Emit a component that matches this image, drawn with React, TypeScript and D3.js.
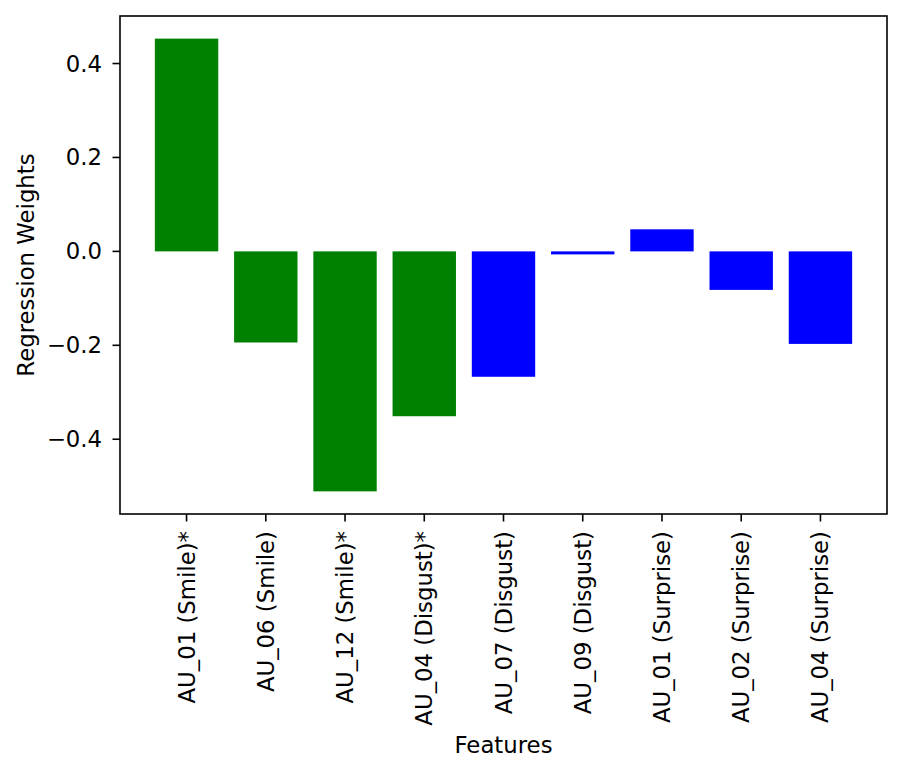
import React from "react";
import * as d3 from "d3";

const categories = [
  "AU_01 (Smile)*",
  "AU_06 (Smile)",
  "AU_12 (Smile)*",
  "AU_04 (Disgust)*",
  "AU_07 (Disgust)",
  "AU_09 (Disgust)",
  "AU_01 (Surprise)",
  "AU_02 (Surprise)",
  "AU_04 (Surprise)",
];
const weights = [0.453, -0.194, -0.511, -0.351, -0.267, -0.0064, 0.047, -0.082, -0.197];
const groups = ["smile", "smile", "smile", "disgust", "surprise", "surprise", "surprise", "surprise", "surprise"];
const yTicks = [-0.4, -0.2, 0.0, 0.2, 0.4];

const W = 903;
const H = 774;
const left = 120;
const right = 887;
const top = 16;
const bottom = 514;

export default function App() {
  const n = categories.length;
  const xMin = -0.4 - 0.05 * (n - 1 + 0.8);
  const xMax = n - 1 + 0.4 + 0.05 * (n - 1 + 0.8);
  const x = d3.scaleLinear().domain([xMin, xMax]).range([left, right]);
  const lo = d3.min(weights)!;
  const hi = d3.max(weights)!;
  const pad = (hi - lo) * 0.05;
  const y = d3.scaleLinear().domain([lo - pad, hi + pad]).range([bottom, top]);
  const colorOf = (i: number) => (i < 4 ? "#008000" : "#0000ff");
  const font = "'DejaVu Sans', sans-serif";
  const fs = 22.8;

  return (
    <svg width={W} height={H} style={{ position: "absolute", left: 0, top: 0, background: "#fff" }} fontFamily={font}>
      <rect x={0} y={0} width={W} height={H} fill="#fff" />
      {weights.map((v, i) => {
        const x0 = x(i - 0.4);
        const x1 = x(i + 0.4);
        const y0 = y(Math.max(0, v));
        const y1 = y(Math.min(0, v));
        return <rect key={i} x={x0} y={y0} width={x1 - x0} height={y1 - y0} fill={colorOf(i)} data-group={groups[i]} />;
      })}
      <rect x={left} y={top} width={right - left} height={bottom - top} fill="none" stroke="#000" strokeWidth={1.6} />
      {yTicks.map((t) => (
        <g key={t}>
          <line x1={left - 7.5} x2={left} y1={y(t)} y2={y(t)} stroke="#000" strokeWidth={1.6} />
          <text x={left - 18} y={y(t)} textAnchor="end" dominantBaseline="central" fontSize={fs}>
            {t === 0 ? "0.0" : d3.format(".1f")(t).replace("-", "\u2212")}
          </text>
        </g>
      ))}
      {categories.map((c, i) => (
        <g key={c}>
          <line x1={x(i)} x2={x(i)} y1={bottom} y2={bottom + 7.5} stroke="#000" strokeWidth={1.6} />
          <text
            transform={`translate(${x(i)},${bottom + 17}) rotate(-90)`}
            textAnchor="end"
            dominantBaseline="central"
            fontSize={fs}
          >
            {c}
          </text>
        </g>
      ))}
      <text x={(left + right) / 2} y={753} textAnchor="middle" fontSize={fs}>
        Features
      </text>
      <text transform={`translate(34,${(top + bottom) / 2}) rotate(-90)`} textAnchor="middle" fontSize={fs}>
        Regression Weights
      </text>
    </svg>
  );
}
